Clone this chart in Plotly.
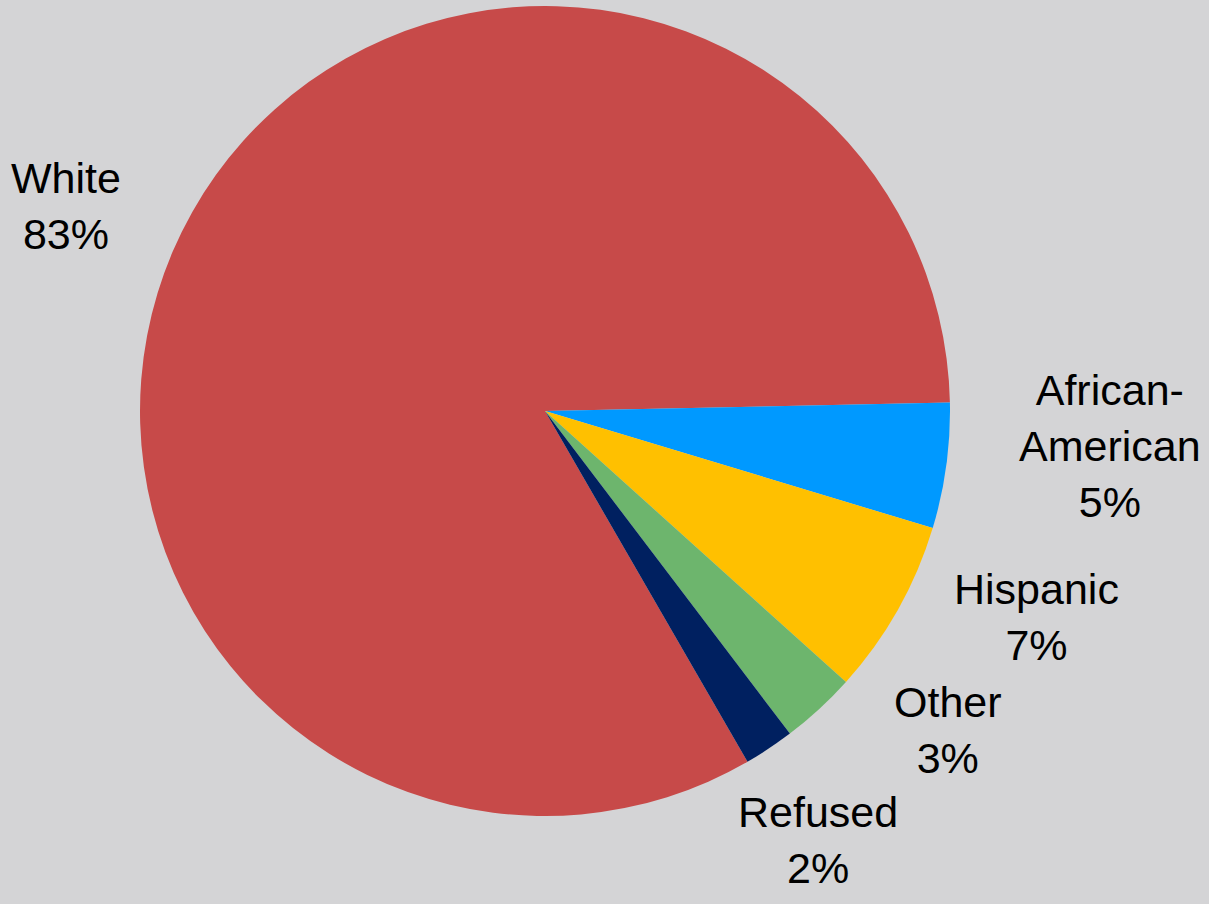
import plotly.graph_objects as go

categories = ["White", "African-American", "Hispanic", "Other", "Refused"]
values = [83, 5, 7, 3, 2]
colors = ["#C74A49", "#0099FF", "#FFC000", "#6DB56D", "#002060"]

# label anchor positions in paper coordinates (x, y)
label_pos = [(0.0546, 0.772), (0.918, 0.507), (0.857, 0.317), (0.784, 0.192), (0.677, 0.071)]

fig = go.Figure(go.Pie(
    labels=categories,
    values=values,
    marker=dict(colors=colors, line=dict(width=0)),
    sort=False,
    direction="clockwise",
    rotation=150,
    textinfo="none",
    hoverinfo="label+percent",
    domain=dict(x=[140/1209, 950/1209], y=[87/904, 899/904]),
))

annotations = []
total = sum(values)
for cat, val, (ax, ay) in zip(categories, values, label_pos):
    txt = cat.replace("-", "-<br>") + "<br>" + f"{round(100*val/total)}%"
    annotations.append(dict(
        x=ax, y=ay, xref="paper", yref="paper", text=txt, showarrow=False,
        xanchor="center", yanchor="middle",
        font=dict(family="Liberation Sans, Arial, sans-serif", size=43, color="#000000"),
    ))

fig.update_layout(
    width=1209, height=904,
    margin=dict(l=0, r=0, t=0, b=0),
    paper_bgcolor="#D4D4D6",
    plot_bgcolor="#D4D4D6",
    showlegend=False,
    annotations=annotations,
)

fig.write_html(
    "out.html",
    config={"displayModeBar": False},
    post_script="document.body.style.margin='0';document.body.style.background='#D4D4D6';document.body.style.overflow='hidden';",
)
